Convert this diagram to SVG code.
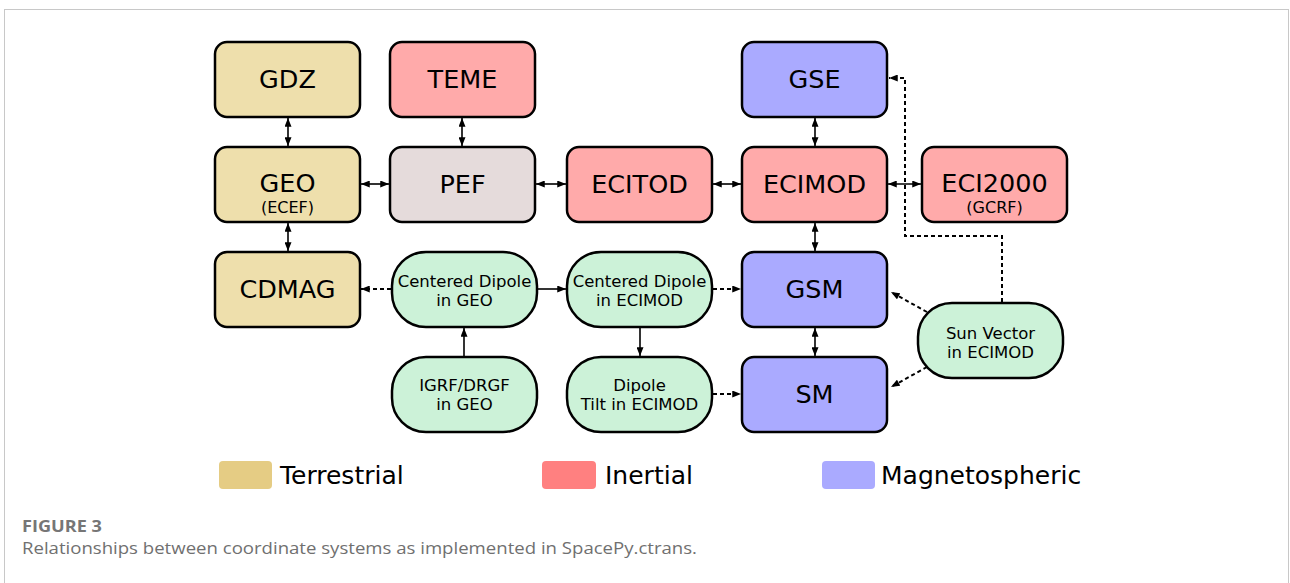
<svg xmlns="http://www.w3.org/2000/svg" width="1290" height="583" viewBox="0 0 1290 583">
<style>
.box{stroke:#000;stroke-width:2.5}
.ter{fill:#eedfac}
.ine{fill:#ffaaaa}
.mag{fill:#aaaaff}
.pef{fill:#e5dbdb}
.grn{fill:#ccf2d8;stroke:#000;stroke-width:2.5}
.big{font-family:"DejaVu Sans",Verdana,sans-serif;font-size:25.5px;fill:#000;text-anchor:middle}
.sub{font-family:"DejaVu Sans",Verdana,sans-serif;font-size:16px;fill:#000;text-anchor:middle}
.sm{font-family:"DejaVu Sans",Verdana,sans-serif;font-size:16.5px;fill:#000;text-anchor:middle}
.leg{font-family:"DejaVu Sans",Verdana,sans-serif;font-size:25px;fill:#000}
.c{fill:none;stroke:#000;stroke-width:1.6}
.d{fill:none;stroke:#000;stroke-width:2;stroke-dasharray:4 3}
</style>
<defs>
<marker id="ah" viewBox="0 0 10 8" refX="10" refY="4" markerWidth="9" markerHeight="7" markerUnits="userSpaceOnUse" orient="auto-start-reverse"><path d="M0,0 L10,4 L0,8 z" fill="#000"/></marker>
</defs>
<rect x="4.5" y="9.5" width="1284" height="600" fill="#fff" stroke="#c8c8c8" stroke-width="1"/>

<g id="GDZ"><rect class="box ter" x="215" y="42" width="145" height="75" rx="12"/><text class="big" x="287.5" y="88">GDZ</text></g>
<g id="TEME"><rect class="box ine" x="390" y="42" width="145" height="75" rx="12"/><text class="big" x="462.5" y="88">TEME</text></g>
<g id="GSE"><rect class="box mag" x="742" y="42" width="145" height="75" rx="12"/><text class="big" x="814.5" y="88">GSE</text></g>
<g id="GEO"><rect class="box ter" x="215" y="147" width="145" height="75" rx="12"/><text class="big" x="287.5" y="192">GEO</text><text class="sub" x="287.5" y="213">(ECEF)</text></g>
<g id="PEF"><rect class="box pef" x="390" y="147" width="145" height="75" rx="12"/><text class="big" x="462.5" y="193">PEF</text></g>
<g id="ECITOD"><rect class="box ine" x="567" y="147" width="145" height="75" rx="12"/><text class="big" x="639.5" y="193">ECITOD</text></g>
<g id="ECIMOD"><rect class="box ine" x="742" y="147" width="145" height="75" rx="12"/><text class="big" x="814.5" y="193">ECIMOD</text></g>
<g id="ECI2000"><rect class="box ine" x="922" y="147" width="145" height="75" rx="12"/><text class="big" x="994.5" y="192">ECI2000</text><text class="sub" x="994.5" y="213">(GCRF)</text></g>
<g id="CDMAG"><rect class="box ter" x="215" y="252" width="145" height="75" rx="12"/><text class="big" x="287.5" y="298">CDMAG</text></g>
<g id="GSM"><rect class="box mag" x="742" y="252" width="145" height="75" rx="12"/><text class="big" x="814.5" y="298">GSM</text></g>
<g id="SM"><rect class="box mag" x="742" y="357" width="145" height="75" rx="12"/><text class="big" x="814.5" y="403">SM</text></g>

<g id="CDGEO"><rect class="grn" x="392" y="252" width="145" height="75" rx="34" ry="34"/><text class="sm" x="464.5" y="287">Centered Dipole</text><text class="sm" x="464.5" y="306">in GEO</text></g>
<g id="CDECIMOD"><rect class="grn" x="567" y="252" width="145" height="75" rx="34" ry="34"/><text class="sm" x="639.5" y="287">Centered Dipole</text><text class="sm" x="639.5" y="306">in ECIMOD</text></g>
<g id="IGRF"><rect class="grn" x="392" y="357" width="145" height="75" rx="34" ry="34"/><text class="sm" x="464.5" y="391">IGRF/DRGF</text><text class="sm" x="464.5" y="410">in GEO</text></g>
<g id="TILT"><rect class="grn" x="567" y="357" width="145" height="75" rx="34" ry="34"/><text class="sm" x="639.5" y="391">Dipole</text><text class="sm" x="639.5" y="410">Tilt in ECIMOD</text></g>
<g id="SUN"><rect class="grn" x="918" y="303" width="145" height="75" rx="34" ry="34"/><text class="sm" x="990.5" y="339">Sun Vector</text><text class="sm" x="990.5" y="358">in ECIMOD</text></g>

<g id="connectors">
<line class="c" x1="288" y1="118" x2="288" y2="146" marker-start="url(#ah)" marker-end="url(#ah)"/>
<line class="c" x1="462" y1="118" x2="462" y2="146" marker-start="url(#ah)" marker-end="url(#ah)"/>
<line class="c" x1="815" y1="118" x2="815" y2="146" marker-start="url(#ah)" marker-end="url(#ah)"/>
<line class="c" x1="288" y1="223" x2="288" y2="251" marker-start="url(#ah)" marker-end="url(#ah)"/>
<line class="c" x1="815" y1="223" x2="815" y2="251" marker-start="url(#ah)" marker-end="url(#ah)"/>
<line class="c" x1="815" y1="328" x2="815" y2="356" marker-start="url(#ah)" marker-end="url(#ah)"/>
<line class="c" x1="361" y1="184" x2="389" y2="184" marker-start="url(#ah)" marker-end="url(#ah)"/>
<line class="c" x1="536" y1="184" x2="566" y2="184" marker-start="url(#ah)" marker-end="url(#ah)"/>
<line class="c" x1="713" y1="184" x2="741" y2="184" marker-start="url(#ah)" marker-end="url(#ah)"/>
<line class="c" x1="888" y1="184" x2="921" y2="184" marker-start="url(#ah)" marker-end="url(#ah)"/>
<line class="d" x1="391" y1="289" x2="361" y2="289" marker-end="url(#ah)"/>
<line class="c" x1="538" y1="289" x2="566" y2="289" marker-end="url(#ah)"/>
<line class="d" x1="713" y1="289" x2="741" y2="289" marker-end="url(#ah)"/>
<line class="c" x1="640" y1="328" x2="640" y2="356" marker-end="url(#ah)"/>
<line class="c" x1="464" y1="356" x2="464" y2="328" marker-end="url(#ah)"/>
<line class="d" x1="713" y1="394" x2="741" y2="394" marker-end="url(#ah)"/>
<line class="d" x1="927" y1="312" x2="891" y2="292" marker-end="url(#ah)"/>
<line class="d" x1="927" y1="367" x2="891" y2="387" marker-end="url(#ah)"/>
<polyline class="d" points="1002,302 1002,236 905,236 905,78 889,78" marker-end="url(#ah)"/>
</g>

<g id="legend">
<rect x="219" y="461" width="53" height="28" rx="4" fill="#e5cc84"/>
<text class="leg" x="280" y="484">Terrestrial</text>
<rect x="542" y="461" width="54" height="28" rx="4" fill="#ff8080"/>
<text class="leg" x="605" y="484">Inertial</text>
<rect x="822" y="461" width="53" height="28" rx="4" fill="#aaaaff"/>
<text class="leg" x="881" y="484">Magnetospheric</text>
</g>

<text x="22" y="532" font-family="'Open Sans',sans-serif" font-size="16" font-weight="bold" fill="#767676" textLength="80" lengthAdjust="spacingAndGlyphs">FIGURE 3</text>
<text x="22" y="554" font-family="'Open Sans',sans-serif" font-size="16.5" fill="#707070" textLength="675" lengthAdjust="spacingAndGlyphs">Relationships between coordinate systems as implemented in SpacePy.ctrans.</text>
</svg>
